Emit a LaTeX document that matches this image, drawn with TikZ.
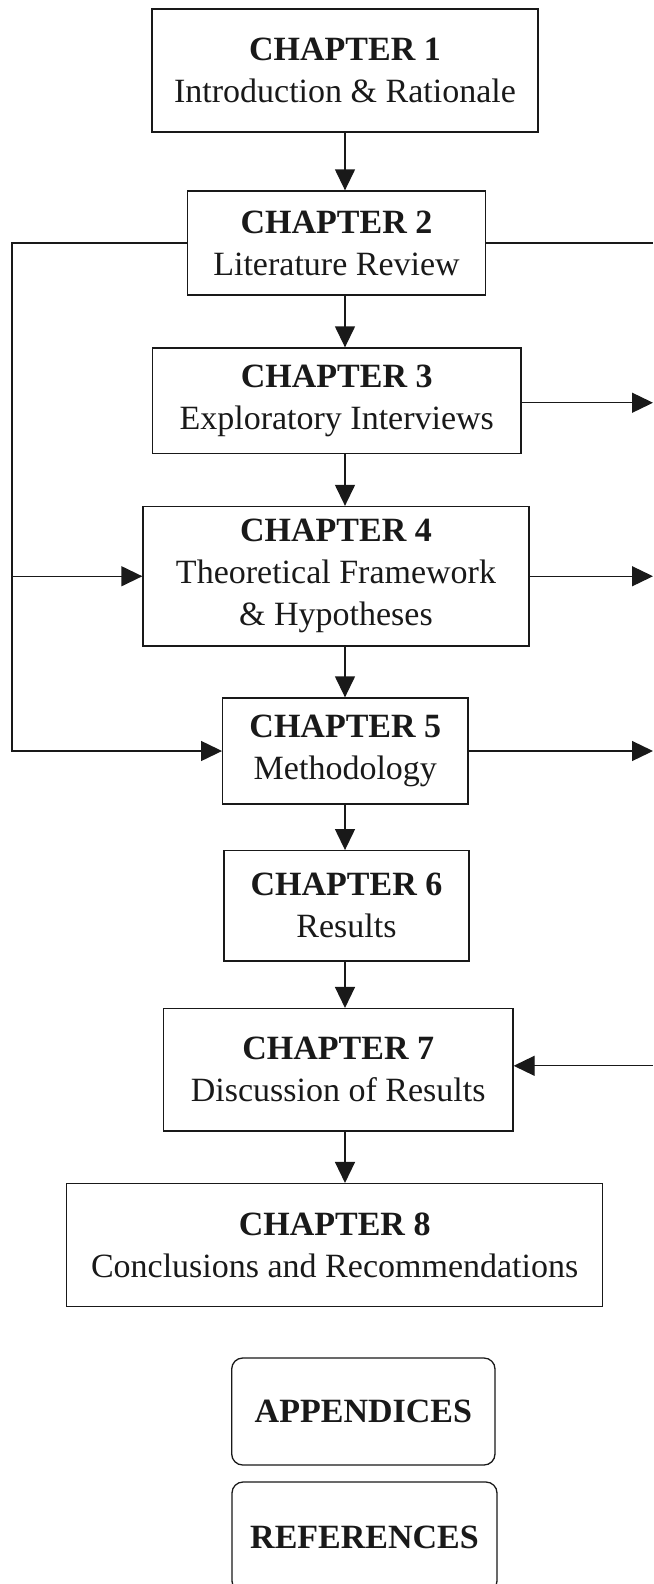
\documentclass[tikz,border=0pt]{standalone}
\usepackage{fontspec}
\setmainfont{Liberation Serif}
\usetikzlibrary{arrows.meta}

\begin{document}
\begin{tikzpicture}[x=1pt,y=1pt,
  chapbox/.style={draw=black!90, line width=1.3pt, align=center, inner sep=0pt,
    font=\fontsize{34}{42}\selectfont, text=black!90},
  endbox/.style={chapbox, rounded corners=11pt},
  link/.style={draw=black!90, line width=1.3pt},
  arr/.style={link, -{Triangle[length=21pt,width=20pt]}},
  hd/.style={}
]
\useasboundingbox (0,0) rectangle (653,-1584);
\clip (0,0) rectangle (653,-1584);

% chapter boxes, top to bottom
\node[chapbox, minimum width=386pt, minimum height=123pt] (b1) at (345,-70.5)
  {\textbf{CHAPTER 1}\\Introduction \& Rationale};
\node[chapbox, minimum width=298pt, minimum height=104pt] (b2) at (336.5,-243)
  {\textbf{CHAPTER 2}\\Literature Review};
\node[chapbox, minimum width=368.5pt, minimum height=105.5pt] (b3) at (336.75,-400.75)
  {\textbf{CHAPTER 3}\\Exploratory Interviews};
\node[chapbox, minimum width=386pt, minimum height=139.5pt] (b4) at (336,-576.25)
  {\textbf{CHAPTER 4}\\Theoretical Framework\\\& Hypotheses};
\node[chapbox, minimum width=245.3pt, minimum height=106pt] (b5) at (345.35,-751)
  {\textbf{CHAPTER 5}\\Methodology};
\node[chapbox, minimum width=245pt, minimum height=110.3pt] (b6) at (346.5,-905.85)
  {\textbf{CHAPTER 6}\\Results};
\node[chapbox, minimum width=349.5pt, minimum height=122.4pt] (b7) at (338.25,-1069.8)
  {\textbf{CHAPTER 7}\\Discussion of Results};
\node[chapbox, minimum width=535.9pt, minimum height=123.2pt] (b8) at (334.65,-1245.2)
  {\textbf{CHAPTER 8}\\Conclusions and Recommendations};

% back matter
\node[endbox, minimum width=263.3pt, minimum height=107pt] (app) at (363.35,-1411.5)
  {\textbf{APPENDICES}};
\node[endbox, minimum width=265pt, minimum height=110pt] (ref) at (364.5,-1537)
  {\textbf{REFERENCES}};

% guide lines: left loop and right page edge
\coordinate (lft) at (12,0);
\coordinate (rgt) at (653,0);

% main sequence
\draw[arr] (b1.south) -- (b2.north -| b1.south);
\draw[arr] (b2.south -| b1.south) -- (b3.north -| b1.south);
\draw[arr] (b3.south -| b1.south) -- (b4.north -| b1.south);
\draw[arr] (b4.south -| b1.south) -- (b5.north -| b1.south);
\draw[arr] (b5.south -| b1.south) -- (b6.north -| b1.south);
\draw[arr] (b6.south -| b1.south) -- (b7.north -| b1.south);
\draw[arr] (b7.south -| b1.south) -- (b8.north -| b1.south);

% left feedback from chapter 2
\draw[arr] (b2.west) -- (b2.west -| lft) |- (b5.west);
\draw[arr] (b4.west -| lft) -- (b4.west);

% right-hand links
\draw[link] (b2.east) -- (b2.east -| rgt);
\draw[arr] ([yshift=-2pt]b3.east) -- ([yshift=-2pt]b3.east -| rgt);
\draw[arr] (b4.east) -- (b4.east -| rgt);
\draw[arr] (b5.east) -- (b5.east -| rgt);
\draw[arr] ([yshift=4pt]b7.east -| rgt) -- ([yshift=4pt]b7.east);
\end{tikzpicture}
\end{document}
